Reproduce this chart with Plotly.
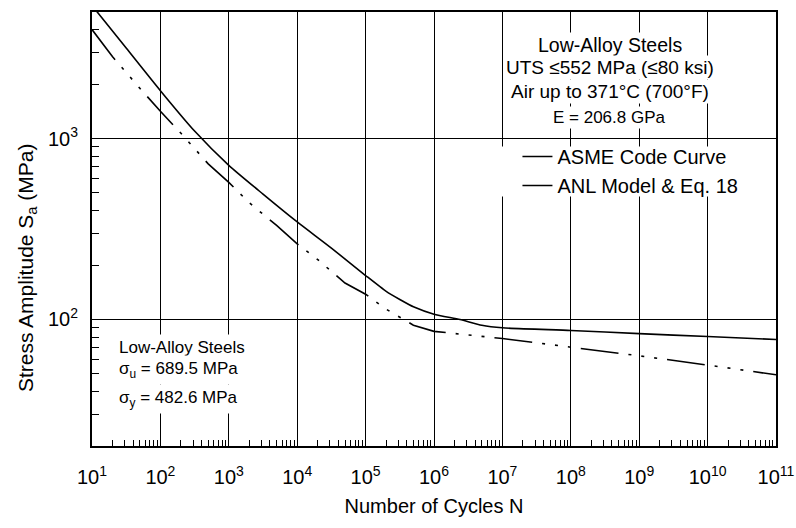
import plotly.graph_objects as go

# ---- data ----
asme_cycles = [1e1, 2e1, 5e1, 1e2, 2e2, 5e2, 1e3, 2e3, 5e3, 1e4, 2e4, 5e4,
               1e5, 2e5, 5e5, 1e6, 1e7, 1e8, 1e9, 1e10, 1e11]
asme_stress = [3999, 2827, 1896, 1413, 1069, 724, 572, 441, 331, 262, 214, 159,
               138, 114, 93, 86, 78.5, 70.5, 63, 56, 49.5]

anl_cycles = [1e1, 31.6, 1e2, 316, 1e3, 3162, 1e4, 31623, 1e5, 2e5, 316228, 5e5,
              1e6, 2.4e6, 5e6, 1e7, 1e8, 1e9, 1e10, 1e11]
anl_stress = [5430, 3163, 1838, 1100, 711, 493, 346, 248, 175, 143, 129, 117.5,
              107, 100, 93, 90, 87, 83.5, 80.5, 77.5]

x_major = [10 ** k for k in range(1, 12)]
x_major_text = ["10<sup>%d</sup>" % k for k in range(1, 12)]
x_minor = [m * 10 ** k for k in range(1, 11) for m in range(2, 10)]

y_major = [100, 1000]
y_major_text = ["10<sup>2</sup>", "10<sup>3</sup>"]
y_minor = [m * 10 ** k for k in range(1, 4) for m in range(2, 10)
           if 20 <= m * 10 ** k <= 5000]

x_range_log = [1, 11]
y_range_log = [1.30103, 3.69897]   # 20 .. 5000 MPa

FONT = "Arial, Liberation Sans, Helvetica, sans-serif"

fig = go.Figure()
fig.add_trace(go.Scatter(
    x=asme_cycles, y=asme_stress, mode="lines", name="ASME Code Curve",
    line=dict(color="black", width=1.6,
              dash="38px,10px,3px,10px,3px,10px,3px,10px")))
fig.add_trace(go.Scatter(
    x=anl_cycles, y=anl_stress, mode="lines", name="ANL Model & Eq. 18",
    line=dict(color="black", width=1.6, shape="spline", smoothing=0.6)))

fig.update_xaxes(
    type="log", range=x_range_log, tickmode="array",
    tickvals=x_major, ticktext=x_major_text,
    showline=True, linewidth=2, linecolor="black", mirror=True,
    ticks="inside", ticklen=10, tickwidth=1.3, tickcolor="black",
    showgrid=True, gridcolor="black", gridwidth=1, zeroline=False,
    tickfont=dict(size=20, family=FONT, color="black"), ticklabelstandoff=12,
    minor=dict(tickmode="array", tickvals=x_minor, ticks="inside",
               ticklen=6, tickwidth=1.2, tickcolor="black", showgrid=False),
    title=dict(text="Number of Cycles N", font=dict(size=20, family=FONT),
               standoff=12),
)
fig.update_yaxes(
    type="log", range=y_range_log, tickmode="array",
    tickvals=y_major, ticktext=y_major_text,
    showline=True, linewidth=2, linecolor="black", mirror=True,
    ticks="inside", ticklen=10, tickwidth=1.3, tickcolor="black",
    showgrid=True, gridcolor="black", gridwidth=1, zeroline=False,
    tickfont=dict(size=20, family=FONT, color="black"), ticklabelstandoff=8,
    minor=dict(tickmode="array", tickvals=y_minor, ticks="inside",
               ticklen=7, tickwidth=1.2, tickcolor="black", showgrid=False),
)

ann = []
top_lines = [("Low-Alloy Steels", 0.924, 19.5), ("UTS ≤552 MPa (≤80 ksi)", 0.871, 19),
             ("Air up to 371°C (700°F)", 0.816, 19), ("E = 206.8 GPa", 0.757, 17)]
for txt, yy, fs in top_lines:
    ann.append(dict(text=txt, xref="paper", yref="paper", x=0.757, y=yy,
                    xanchor="center", yanchor="middle", showarrow=False,
                    bgcolor="white", borderpad=1,
                    font=dict(size=fs, family=FONT, color="black")))
low_lines = [("Low-Alloy Steels", 0.228), ("σ<sub>u</sub> = 689.5 MPa", 0.175),
             ("σ<sub>y</sub> = 482.6 MPa", 0.108)]
for txt, yy in low_lines:
    ann.append(dict(text=txt, xref="paper", yref="paper", x=0.033, y=yy,
                    xanchor="left", yanchor="middle", showarrow=False,
                    bgcolor="white", borderpad=3,
                    font=dict(size=17, family=FONT, color="black")))
ann.append(dict(text="Stress Amplitude S<sub>a</sub> (MPa)", textangle=-90,
                xref="paper", yref="paper", x=-0.095, y=0.41,
                xanchor="center", yanchor="middle", showarrow=False,
                font=dict(size=21, family=FONT, color="black")))

fig.update_layout(
    template="none",
    width=796, height=528,
    margin=dict(l=92, r=20, t=12, b=82),
    plot_bgcolor="white", paper_bgcolor="white",
    font=dict(family=FONT, color="black"),
    annotations=ann,
    shapes=[dict(type="rect", xref="paper", yref="paper", layer="above",
                 x0=0.55, x1=0.995, y0=0.575, y1=0.69,
                 fillcolor="white", line=dict(width=0))],
    legend=dict(x=0.622, y=0.712, xanchor="left", yanchor="top",
                bgcolor="rgba(0,0,0,0)", borderwidth=0,
                font=dict(size=20, family=FONT, color="black"),
                tracegroupgap=0),
)

fig.write_html("out.html")
